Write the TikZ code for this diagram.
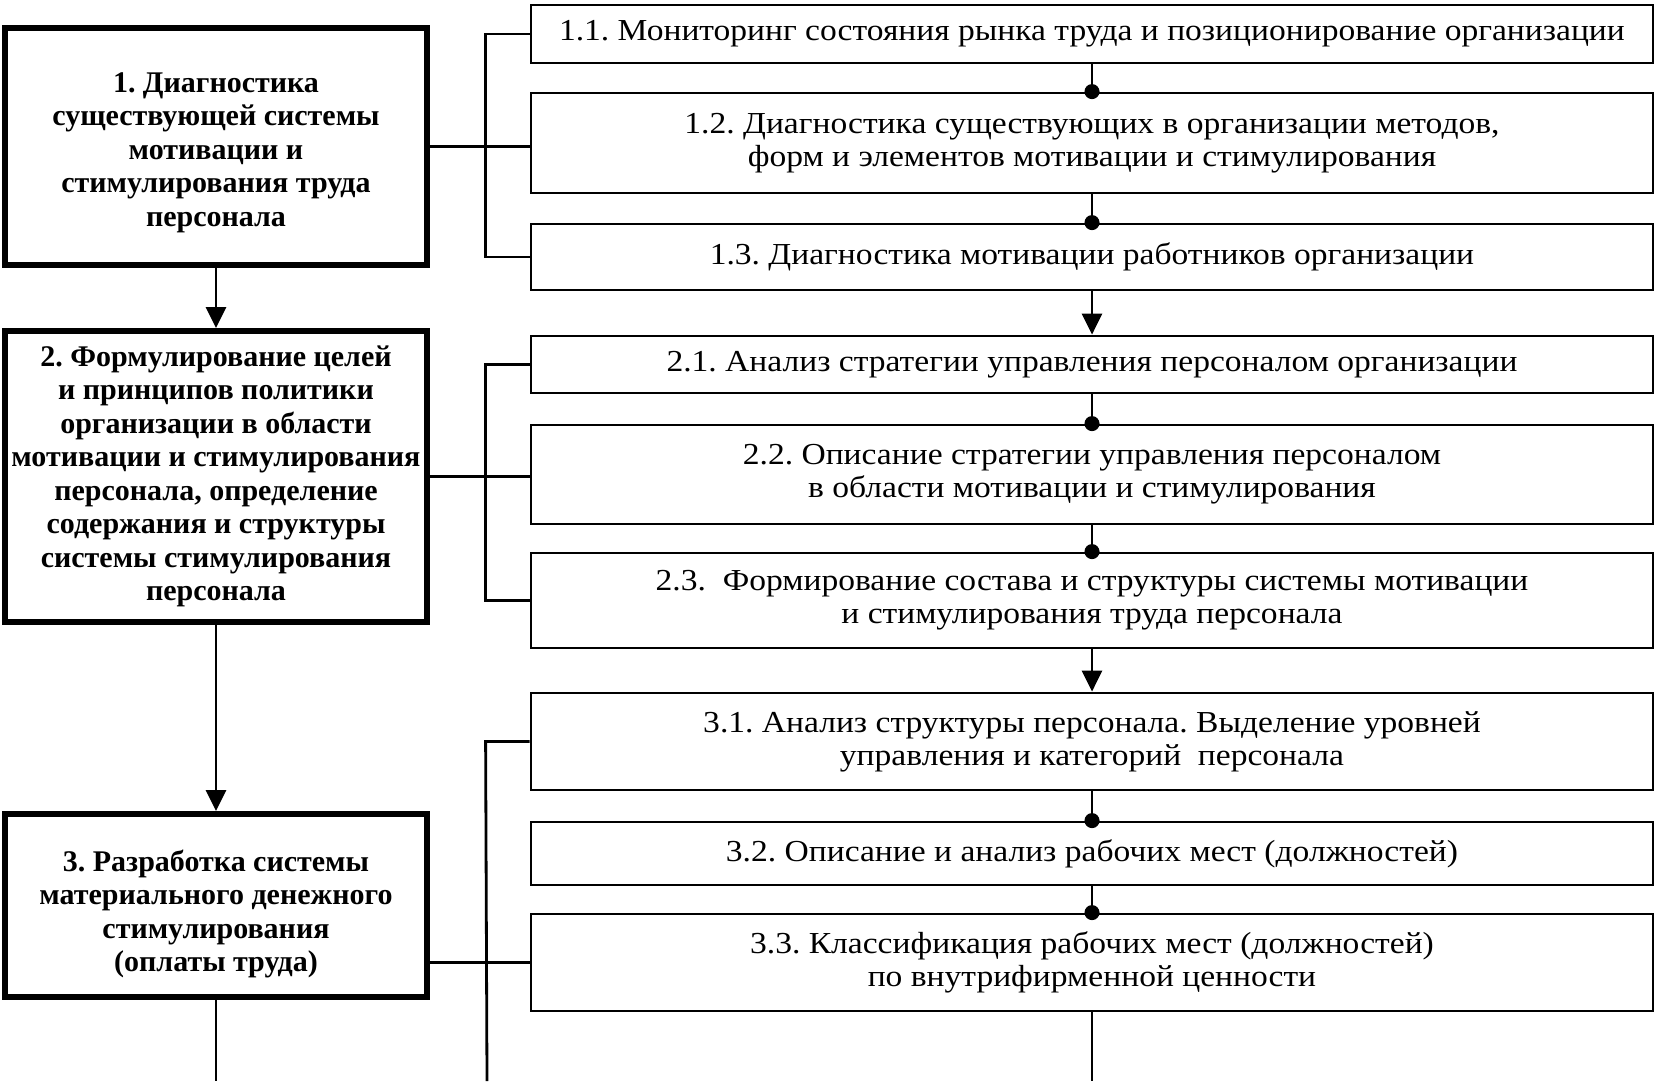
\documentclass[tikz,border=0pt]{standalone}
\usepackage{fontspec}
\setmainfont{Liberation Serif}
\newfontfamily\widefont[FakeStretch=1.1]{Liberation Serif}
\usetikzlibrary{arrows.meta}
\begin{document}
\frenchspacing
\begin{tikzpicture}[x=1pt,y=-1pt,
  rbox/.style={draw,line width=2.8pt,minimum width=1122pt,align=center,font=\widefont\fontsize{30.5}{33}\selectfont,inner sep=0pt},
  lbox/.style={draw,line width=6pt,minimum width=422pt,align=center,font=\bfseries\fontsize{30}{33.5}\selectfont,inner sep=0pt},
  link/.style={line width=2.8pt},
  arr/.style={link,-{Triangle[length=21pt,width=20pt]}},
  dotlink/.style={link,-{Circle[length=15pt,width=15pt]},shorten >=-7.5pt},
]
\useasboundingbox (0,0) rectangle (1656,1081);
% left boxes
\node[lbox,minimum height=237pt] (b1) at (216,146.5) {\rule{0pt}{32pt}1. Диагностика\\существующей системы\\мотивации и\\стимулирования труда\\персонала};
\node[lbox,minimum height=291pt] (b2) at (216,476.5) {2. Формулирование целей\\и принципов политики\\организации в области\\мотивации и стимулирования\\персонала, определение\\содержания и структуры\\системы стимулирования\\персонала};
\node[lbox,minimum height=183pt] (b3) at (216,905.5) {\rule{0pt}{38pt}3. Разработка системы\\материального денежного\\стимулирования\\(оплаты труда)};
% right boxes
\node[rbox,minimum height=58pt] (b11) at (1092,34) {1.1. Мониторинг состояния рынка труда и позиционирование организации};
\node[rbox,minimum height=100pt] (b12) at (1092,143) {1.2. Диагностика существующих в организации методов,\\форм и элементов мотивации и стимулирования};
\node[rbox,minimum height=66pt] (b13) at (1092,257) {1.3. Диагностика мотивации работников организации};
\node[rbox,minimum height=57pt] (b21) at (1092,364.5) {2.1. Анализ стратегии управления персоналом организации};
\node[rbox,minimum height=99pt] (b22) at (1092,474.5) {2.2. Описание стратегии управления персоналом\\в области мотивации и стимулирования};
\node[rbox,minimum height=95pt] (b23) at (1092,600.5) {2.3.\ \ Формирование состава и структуры системы мотивации\\и стимулирования труда персонала};
\node[rbox,minimum height=97pt] (b31) at (1092,741.5) {3.1. Анализ структуры персонала. Выделение уровней\\управления и категорий\ \ персонала};
\node[rbox,minimum height=63pt] (b32) at (1092,853.5) {3.2. Описание и анализ рабочих мест (должностей)};
\node[rbox,minimum height=97pt] (b33) at (1092,962.5) {3.3. Классификация рабочих мест (должностей)\\по внутрифирменной ценности};
% bottom ends
\coordinate (e3) at (216,1081);
\coordinate (k3) at (487,1081);
\coordinate (e33) at (1092,1081);
% left chain
\draw[arr] (b1.south) -- (b2.north);
\draw[arr] (b2.south) -- (b3.north);
\draw[link] (b3.south) -- (e3);
% right chain
\draw[dotlink] (b11.south) -- (b12.north);
\draw[dotlink] (b12.south) -- (b13.north);
\draw[arr] (b13.south) -- (b21.north);
\draw[dotlink] (b21.south) -- (b22.north);
\draw[dotlink] (b22.south) -- (b23.north);
\draw[arr] (b23.south) -- (b31.north);
\draw[dotlink] (b31.south) -- (b32.north);
\draw[dotlink] (b32.south) -- (b33.north);
\draw[link] (b33.south) -- (e33);
% brackets
\draw[link] (b11.west) -- ++(-44,0) |- (b13.west);
\draw[link] (b1.east) -- (b1.east -| b12.west);
\draw[link] (b21.west) -- ++(-44,0) |- (b23.west);
\draw[link] (b2.east) -- (b2.east -| b22.west);
\draw[link] (b31.west) -- ++(-44,0) -- (k3);
\draw[link] (b3.east |- b33.west) -- (b33.west);
\end{tikzpicture}
\end{document}
